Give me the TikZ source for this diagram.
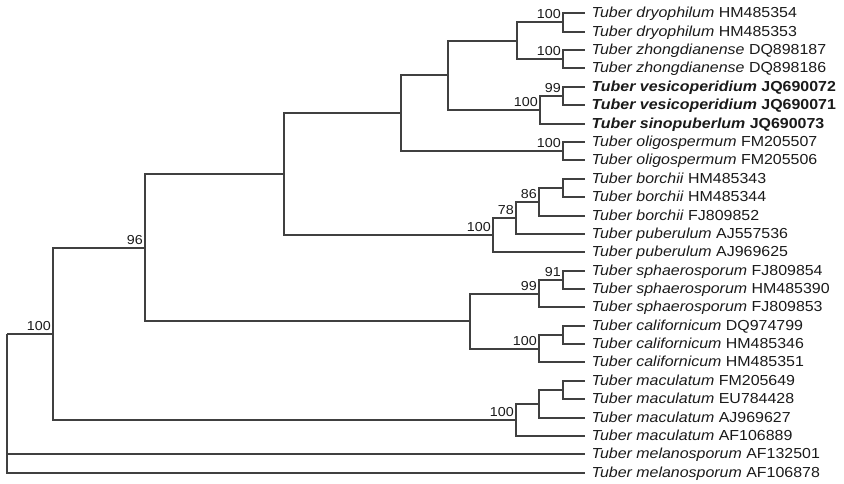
\documentclass[tikz,border=0pt]{standalone}
\usepackage{fontspec}
\setmainfont{Liberation Sans}[FakeStretch=1.1]

\definecolor{branchgray}{HTML}{404040}
\definecolor{labelgray}{HTML}{1A1A1A}

\begin{document}
\begin{tikzpicture}[x=1pt, y=-1pt,
  leaf/.style={anchor=west, inner sep=0pt, outer xsep=6.5pt, text height=9pt, text depth=0pt, text=labelgray, font=\fontsize{14.5}{16}\selectfont},
  boot/.style={anchor=base east, inner sep=0pt, xshift=-2pt, yshift=3.3pt, text=labelgray, font=\fontsize{13}{14}\selectfont},
  branch/.style={draw=branchgray, line width=1.4pt}]

\useasboundingbox (0,0) rectangle (844,484);

\node (l1)[leaf] at (585, 13) {\textit{Tuber dryophilum} HM485354};
\node (l2)[leaf] at (585, 32) {\textit{Tuber dryophilum} HM485353};
\node (l3)[leaf] at (585, 50) {\textit{Tuber zhongdianense} DQ898187};
\node (l4)[leaf] at (585, 68) {\textit{Tuber zhongdianense} DQ898186};
\node (l5)[leaf] at (585, 87) {\textbf{\textit{Tuber vesicoperidium} JQ690072}};
\node (l6)[leaf] at (585, 105) {\textbf{\textit{Tuber vesicoperidium} JQ690071}};
\node (l7)[leaf] at (585, 124) {\textbf{\textit{Tuber sinopuberlum} JQ690073}};
\node (l8)[leaf] at (585, 142) {\textit{Tuber oligospermum} FM205507};
\node (l9)[leaf] at (585, 160) {\textit{Tuber oligospermum} FM205506};
\node (l10)[leaf] at (585, 179) {\textit{Tuber borchii} HM485343};
\node (l11)[leaf] at (585, 197) {\textit{Tuber borchii} HM485344};
\node (l12)[leaf] at (585, 216) {\textit{Tuber borchii} FJ809852};
\node (l13)[leaf] at (585, 234) {\textit{Tuber puberulum} AJ557536};
\node (l14)[leaf] at (585, 252) {\textit{Tuber puberulum} AJ969625};
\node (l15)[leaf] at (585, 271) {\textit{Tuber sphaerosporum} FJ809854};
\node (l16)[leaf] at (585, 289) {\textit{Tuber sphaerosporum} HM485390};
\node (l17)[leaf] at (585, 307) {\textit{Tuber sphaerosporum} FJ809853};
\node (l18)[leaf] at (585, 326) {\textit{Tuber californicum} DQ974799};
\node (l19)[leaf] at (585, 344) {\textit{Tuber californicum} HM485346};
\node (l20)[leaf] at (585, 362) {\textit{Tuber californicum} HM485351};
\node (l21)[leaf] at (585, 381) {\textit{Tuber maculatum} FM205649};
\node (l22)[leaf] at (585, 399) {\textit{Tuber maculatum} EU784428};
\node (l23)[leaf] at (585, 418) {\textit{Tuber maculatum} AJ969627};
\node (l24)[leaf] at (585, 436) {\textit{Tuber maculatum} AF106889};
\node (l25)[leaf] at (585, 454) {\textit{Tuber melanosporum} AF132501};
\node (l26)[leaf] at (585, 473) {\textit{Tuber melanosporum} AF106878};

\coordinate (dryo) at (563, 22);
\coordinate (zhong) at (563, 59);
\coordinate (dz) at (517, 41);
\coordinate (vesi) at (563, 96);
\coordinate (vsino) at (540, 110);
\coordinate (dzvs) at (448, 75);
\coordinate (oligo) at (563, 151);
\coordinate (upper) at (401, 113);
\coordinate (borA) at (563, 188);
\coordinate (borB) at (539, 202);
\coordinate (borC) at (516, 218);
\coordinate (borP) at (493, 235);
\coordinate (ub) at (284, 174);
\coordinate (sphA) at (563, 280);
\coordinate (sphB) at (539, 294);
\coordinate (calA) at (563, 335);
\coordinate (calB) at (539, 349);
\coordinate (sc) at (470, 321);
\coordinate (n96) at (145, 248);
\coordinate (macA) at (563, 390);
\coordinate (macB) at (539, 404);
\coordinate (macC) at (516, 420);
\coordinate (n100) at (53, 334);
\coordinate (root) at (7, 334);

\draw[branch] (dryo) |- (l1.west);
\draw[branch] (dryo) |- (l2.west);
\draw[branch] (zhong) |- (l3.west);
\draw[branch] (zhong) |- (l4.west);
\draw[branch] (dz) |- (dryo);
\draw[branch] (dz) |- (zhong);
\draw[branch] (vesi) |- (l5.west);
\draw[branch] (vesi) |- (l6.west);
\draw[branch] (vsino) |- (vesi);
\draw[branch] (vsino) |- (l7.west);
\draw[branch] (dzvs) |- (dz);
\draw[branch] (dzvs) |- (vsino);
\draw[branch] (oligo) |- (l8.west);
\draw[branch] (oligo) |- (l9.west);
\draw[branch] (upper) |- (dzvs);
\draw[branch] (upper) |- (oligo);

\draw[branch] (borA) |- (l10.west);
\draw[branch] (borA) |- (l11.west);
\draw[branch] (borB) |- (borA);
\draw[branch] (borB) |- (l12.west);
\draw[branch] (borC) |- (borB);
\draw[branch] (borC) |- (l13.west);
\draw[branch] (borP) |- (borC);
\draw[branch] (borP) |- (l14.west);
\draw[branch] (ub) |- (upper);
\draw[branch] (ub) |- (borP);

\draw[branch] (sphA) |- (l15.west);
\draw[branch] (sphA) |- (l16.west);
\draw[branch] (sphB) |- (sphA);
\draw[branch] (sphB) |- (l17.west);
\draw[branch] (calA) |- (l18.west);
\draw[branch] (calA) |- (l19.west);
\draw[branch] (calB) |- (calA);
\draw[branch] (calB) |- (l20.west);
\draw[branch] (sc) |- (sphB);
\draw[branch] (sc) |- (calB);
\draw[branch] (n96) |- (ub);
\draw[branch] (n96) |- (sc);

\draw[branch] (macA) |- (l21.west);
\draw[branch] (macA) |- (l22.west);
\draw[branch] (macB) |- (macA);
\draw[branch] (macB) |- (l23.west);
\draw[branch] (macC) |- (macB);
\draw[branch] (macC) |- (l24.west);
\draw[branch] (n100) |- (n96);
\draw[branch] (n100) |- (macC);

\draw[branch] (root) -- (n100);
\draw[branch] (root) |- (l25.west);
\draw[branch] (root) |- (l26.west);

\node (s1)[boot] at (dryo) {100};
\node (s2)[boot] at (zhong) {100};
\node (s3)[boot] at (vesi) {99};
\node (s4)[boot] at (vsino) {100};
\node (s5)[boot] at (oligo) {100};
\node (s6)[boot] at (borB) {86};
\node (s7)[boot] at (borC) {78};
\node (s8)[boot] at (borP) {100};
\node (s9)[boot] at (sphA) {91};
\node (s10)[boot] at (sphB) {99};
\node (s11)[boot] at (calB) {100};
\node (s12)[boot] at (macC) {100};
\node (s13)[boot] at (n96) {96};
\node (s14)[boot] at (n100) {100};

\end{tikzpicture}
\end{document}
